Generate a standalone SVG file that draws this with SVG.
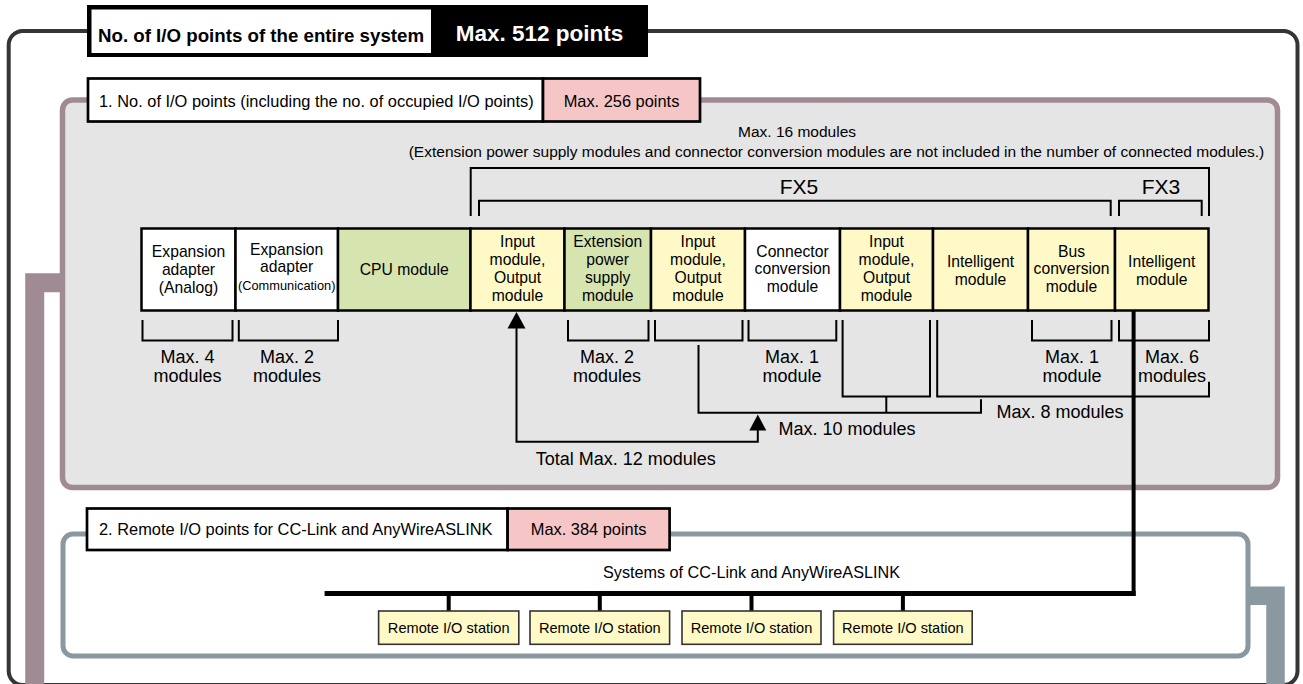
<svg xmlns="http://www.w3.org/2000/svg" width="1303" height="684" viewBox="0 0 1303 684">
  <style>
    text { font-family: "Liberation Sans", Arial, Helvetica, sans-serif; fill: #000; }
    .mod { font-size: 15.7px; text-anchor: middle; }
    .small { font-size: 12.8px; }
    .lbl { font-size: 18px; }
    .mid { text-anchor: middle; }
    .hdr { font-size: 16.4px; }
    .fx { font-size: 21px; text-anchor: middle; }
    .note { font-size: 15.5px; text-anchor: middle; }
    .rio { font-size: 14.6px; text-anchor: middle; }
    .box { stroke: #000; stroke-width: 2.5; }
    .hbox { stroke: #000; stroke-width: 2.7; }
    .y { fill: #fef9c6; }
    .g { fill: #d6e5b0; }
    .w { fill: #fff; }
    .p { fill: #f6c6c6; }
    .br { fill: none; stroke: #000; stroke-width: 2; }
    .bus { fill: none; stroke: #000; stroke-linecap: butt; }
    .head { fill: #000; }
  </style>

  <!-- outer frame: whole system -->
  <g id="system-frame">
    <rect x="8.7" y="31" width="1288.8" height="654" rx="14" fill="#fff" stroke="#353535" stroke-width="4"/>
  </g>

  <!-- thick side links -->
  <g id="side-links">
    <path d="M62,282.8 H34.7 V700" fill="none" stroke="#a08b95" stroke-width="19" stroke-linejoin="miter"/>
    <path d="M1248,595.8 H1275.5 V700" fill="none" stroke="#8a98a0" stroke-width="18.5" stroke-linejoin="miter"/>
  </g>

  <!-- section 1 frame -->
  <g id="section1-frame">
    <rect x="62.5" y="100" width="1215" height="387.5" rx="10" fill="#e5e5e5" stroke="#a08b95" stroke-width="5.5"/>
  </g>

  <!-- section 2 frame -->
  <g id="section2-frame">
    <rect x="63" y="534" width="1185" height="122" rx="10" fill="#fff" stroke="#8a98a0" stroke-width="5"/>
  </g>

  <!-- system header -->
  <g id="system-header">
    <rect x="87" y="5" width="561" height="52" fill="#000"/>
    <rect x="91.5" y="9.5" width="339.5" height="43.5" fill="#fff"/>
    <text x="261" y="41.5" font-size="18.7" font-weight="bold" class="mid">No. of I/O points of the entire system</text>
    <text x="539.5" y="41" font-size="22.5" font-weight="bold" class="mid" style="fill:#fff">Max. 512 points</text>
  </g>

  <!-- section 1 header -->
  <g id="section1-header">
    <rect x="88" y="78.5" width="455" height="43" class="hbox w"/>
    <rect x="543" y="78.5" width="157" height="43" class="hbox p"/>
    <text x="99" y="106.5" class="hdr">1. No. of I/O points (including the no. of occupied I/O points)</text>
    <text x="621.5" y="106.5" class="hdr mid">Max. 256 points</text>
  </g>

  <!-- section 1 notes and FX brackets -->
  <g id="module-limits">
    <text x="797" y="137" class="note">Max. 16 modules</text>
    <text x="836.5" y="157" class="note">(Extension power supply modules and connector conversion modules are not included in the number of connected modules.)</text>
    <path d="M470.7,216 V168 H1209 V216" class="br"/>
    <path d="M479,216 V200.7 H1110.7 V216" class="br"/>
    <path d="M1119,216 V200.7 H1201.7 V216" class="br"/>
    <text x="799" y="194" class="fx">FX5</text>
    <text x="1161" y="194" class="fx">FX3</text>
  </g>

  <!-- module row -->
  <g id="mod-exp-analog">
    <rect x="141.5" y="228.5" width="94" height="82" class="box w"/>
    <text class="mod"><tspan x="188.5" y="256.7">Expansion</tspan><tspan x="188.5" y="275">adapter</tspan><tspan x="188.5" y="293.3">(Analog)</tspan></text>
  </g>
  <g id="mod-exp-comm">
    <rect x="235.5" y="228.5" width="102.5" height="82" class="box w"/>
    <text class="mod"><tspan x="286.7" y="255">Expansion</tspan><tspan x="286.7" y="272">adapter</tspan><tspan x="286.7" y="290" class="small">(Communication)</tspan></text>
  </g>
  <g id="mod-cpu">
    <rect x="338" y="228.5" width="132.5" height="82" class="box g"/>
    <text x="404.2" y="275" class="mod">CPU module</text>
  </g>
  <g id="mod-io-1">
    <rect x="470.5" y="228.5" width="94" height="82" class="box y"/>
    <text class="mod"><tspan x="517.5" y="247.3">Input</tspan><tspan x="517.5" y="265.2">module,</tspan><tspan x="517.5" y="283.1">Output</tspan><tspan x="517.5" y="301">module</tspan></text>
  </g>
  <g id="mod-ext-power">
    <rect x="564.5" y="228.5" width="86.5" height="82" class="box g"/>
    <text class="mod"><tspan x="607.7" y="247.3">Extension</tspan><tspan x="607.7" y="265.2">power</tspan><tspan x="607.7" y="283.1">supply</tspan><tspan x="607.7" y="301">module</tspan></text>
  </g>
  <g id="mod-io-2">
    <rect x="651" y="228.5" width="94" height="82" class="box y"/>
    <text class="mod"><tspan x="698" y="247.3">Input</tspan><tspan x="698" y="265.2">module,</tspan><tspan x="698" y="283.1">Output</tspan><tspan x="698" y="301">module</tspan></text>
  </g>
  <g id="mod-connector-conv">
    <rect x="745" y="228.5" width="95" height="82" class="box w"/>
    <text class="mod"><tspan x="792.5" y="256.7">Connector</tspan><tspan x="792.5" y="274.3">conversion</tspan><tspan x="792.5" y="291.7">module</tspan></text>
  </g>
  <g id="mod-io-3">
    <rect x="840" y="228.5" width="93" height="82" class="box y"/>
    <text class="mod"><tspan x="886.5" y="247.3">Input</tspan><tspan x="886.5" y="265.2">module,</tspan><tspan x="886.5" y="283.1">Output</tspan><tspan x="886.5" y="301">module</tspan></text>
  </g>
  <g id="mod-intelligent-fx5">
    <rect x="933" y="228.5" width="95" height="82" class="box y"/>
    <text class="mod"><tspan x="980.5" y="267">Intelligent</tspan><tspan x="980.5" y="285">module</tspan></text>
  </g>
  <g id="mod-bus-conv">
    <rect x="1028" y="228.5" width="87" height="82" class="box y"/>
    <text class="mod"><tspan x="1071.5" y="256.7">Bus</tspan><tspan x="1071.5" y="274.3">conversion</tspan><tspan x="1071.5" y="291.7">module</tspan></text>
  </g>
  <g id="mod-intelligent-fx3">
    <rect x="1115" y="228.5" width="93.5" height="82" class="box y"/>
    <text class="mod"><tspan x="1161.7" y="267">Intelligent</tspan><tspan x="1161.7" y="285">module</tspan></text>
  </g>

  <!-- count brackets under the module row -->
  <g id="connectors">
    <path d="M142.5,320 V340.5 H232.5 V320" class="br"/>
    <path d="M238.8,320 V340.5 H338 V320" class="br"/>
    <path d="M568,320 V340.5 H648.5 V320" class="br"/>
    <path d="M655,320 V340.5 H742.5 V320" class="br"/>
    <path d="M748.5,320 V340.5 H836.3 V320" class="br"/>
    <path d="M842.6,320 V396.5 H930 V320" class="br"/>
    <path d="M937.2,320 V396.5 H1209 V381.7" class="br"/>
    <path d="M1032,320 V340.5 H1111.5 V320" class="br"/>
    <path d="M1119,320 V340.5 H1209 V320" class="br"/>

    <!-- Max. 10 grouping -->
    <path d="M698.5,345 V412.7 H981 V399.3" class="br"/>
    <path d="M886.3,396.5 V412.7" class="br"/>

    <!-- Total Max. 12 grouping with arrows -->
    <path d="M516.5,327 V441.7 H757.8 V429" class="br"/>
    <polygon points="516.5,312 507.5,328.5 525.5,328.5" class="head"/>
    <polygon points="757.8,414.5 749.3,430.5 766.3,430.5" class="head"/>

    <!-- network link from the FX3 intelligent module to the bus -->
    <path d="M1133.6,311 V596" class="bus" stroke-width="4"/>
    <path d="M324.6,593.5 H1135.6" class="bus" stroke-width="5"/>
    <path d="M448.7,593 V611 M599.8,593 V611 M751.5,593 V611 M902.9,593 V611" class="bus" stroke-width="4"/>
  </g>

  <!-- count labels -->
  <g id="count-labels">
    <text class="lbl mid"><tspan x="187.5" y="363">Max. 4</tspan><tspan x="187.5" y="381.5">modules</tspan></text>
    <text class="lbl mid"><tspan x="287" y="363">Max. 2</tspan><tspan x="287" y="381.5">modules</tspan></text>
    <text class="lbl mid"><tspan x="607" y="363">Max. 2</tspan><tspan x="607" y="381.5">modules</tspan></text>
    <text class="lbl mid"><tspan x="792" y="363">Max. 1</tspan><tspan x="792" y="381.5">module</tspan></text>
    <text class="lbl mid"><tspan x="1072" y="363">Max. 1</tspan><tspan x="1072" y="381.5">module</tspan></text>
    <text class="lbl mid"><tspan x="1172" y="363">Max. 6</tspan><tspan x="1172" y="381.5">modules</tspan></text>
    <text x="996.4" y="418" class="lbl">Max. 8 modules</text>
    <text x="778.5" y="435" class="lbl">Max. 10 modules</text>
    <text x="535.7" y="465" class="lbl">Total Max. 12 modules</text>
  </g>

  <!-- section 2 header -->
  <g id="section2-header">
    <rect x="87" y="508.5" width="420.6" height="41.5" class="hbox w"/>
    <rect x="507.6" y="508.5" width="162" height="41.5" class="hbox p"/>
    <text x="99" y="535" class="hdr">2. Remote I/O points for CC-Link and AnyWireASLINK</text>
    <text x="588.6" y="535" class="hdr mid">Max. 384 points</text>
  </g>

  <g id="network-label">
    <text x="751.5" y="578" font-size="16.2" class="mid">Systems of CC-Link and AnyWireASLINK</text>
  </g>

  <!-- remote stations -->
  <g id="remote-1">
    <rect x="378.6" y="611" width="140.2" height="33.3" fill="#fef9c6" stroke="#333" stroke-width="1.6"/>
    <text x="448.7" y="633.3" class="rio">Remote I/O station</text>
  </g>
  <g id="remote-2">
    <rect x="530" y="611" width="139.6" height="33.3" fill="#fef9c6" stroke="#333" stroke-width="1.6"/>
    <text x="599.8" y="633.3" class="rio">Remote I/O station</text>
  </g>
  <g id="remote-3">
    <rect x="682" y="611" width="139" height="33.3" fill="#fef9c6" stroke="#333" stroke-width="1.6"/>
    <text x="751.5" y="633.3" class="rio">Remote I/O station</text>
  </g>
  <g id="remote-4">
    <rect x="833.6" y="611" width="138.6" height="33.3" fill="#fef9c6" stroke="#333" stroke-width="1.6"/>
    <text x="902.9" y="633.3" class="rio">Remote I/O station</text>
  </g>
</svg>
